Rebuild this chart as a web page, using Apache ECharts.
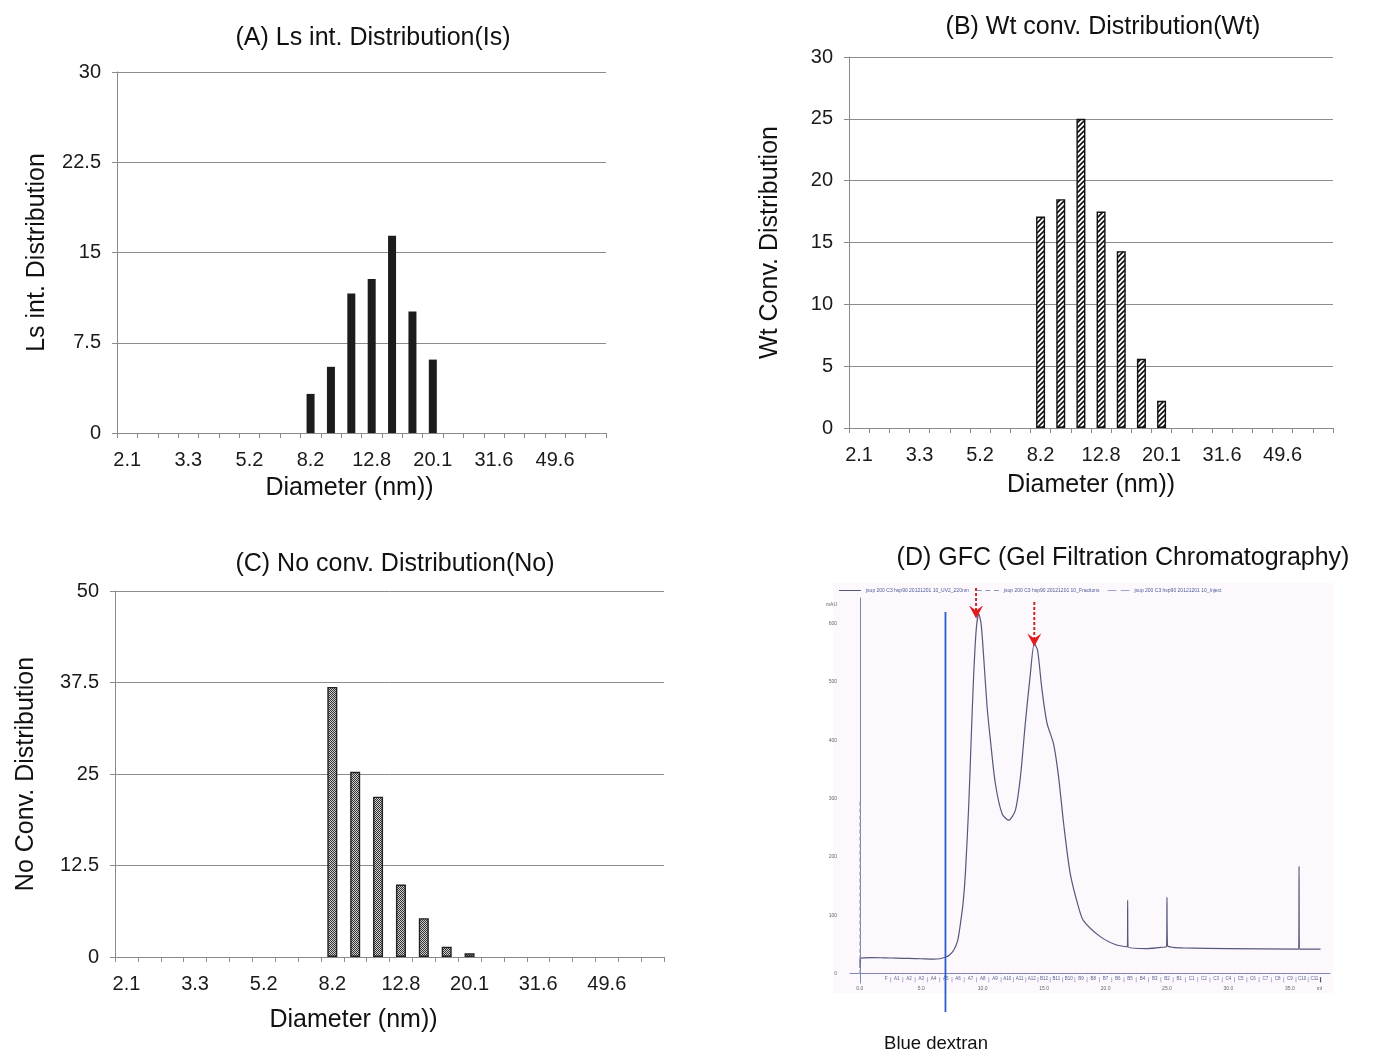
<!DOCTYPE html>
<html>
<head>
<meta charset="utf-8">
<script src="https://cdn.jsdelivr.net/npm/echarts@6/dist/echarts.min.js"></script>
<style>
html,body{margin:0;padding:0;background:#fff;}
#c{width:1393px;height:1058px;}
</style>
</head>
<body>
<div id="c"></div>
<script>
// ---------- DATA ----------
const diameters = ['2.1','2.4','2.8','3.3','3.8','4.5','5.2','6.0','7.0','8.2','9.5','11.0','12.8','14.9','17.3','20.1','23.4','27.2','31.6','36.7','42.7','49.6','57.7','67.1'];
const lsInt  = [null,null,null,null,null,null,null,null,null,3.25,5.5,11.6,12.8,16.4,10.1,6.1,null,null,null,null,null,null,null,null];
const wtConv = [null,null,null,null,null,null,null,null,null,17.1,18.5,25.0,17.5,14.3,5.6,2.2,null,null,null,null,null,null,null,null];
const noConv = [null,null,null,null,null,null,null,null,null,36.9,25.3,21.9,9.9,5.3,1.4,0.5,null,null,null,null,null,null,null,null];

// GFC chromatogram (ml, mAU)
const uvCurve = [[0.0,10],[0.05,26],[0.3,27],[1,27.5],[2,27],[3,26.5],[4,26],[5,25.5],[6,25],[6.5,25.5],[7.0,28.5],[7.3,32],[7.64,40],[7.97,57],[8.19,86],[8.4,120],[8.59,171],[8.86,286],[9.06,400],[9.27,514],[9.49,594],[9.68,617],[9.87,600],[10.08,543],[10.36,457],[10.63,400],[11.03,326],[11.58,274],[12.11,263],[12.66,280],[13.07,337],[13.47,429],[13.88,514],[14.2,566],[14.47,554],[14.83,486],[15.24,429],[15.77,394],[16.18,337],[16.59,257],[17.13,171],[17.8,114],[18.2,91],[19.6,63],[20.9,49],[21.78,46],[21.8,126],[21.83,46],[23.4,43],[24.5,45],[24.97,47],[25.0,131],[25.04,48],[25.5,45],[26.3,44],[30,43],[35.72,42],[35.75,184],[35.78,42],[37.5,42]];
const injectLine = [[0,0],[0,300]];
const blueDextranLine = [[6.97,620],[6.97,-66]];
const arrow1 = [[9.46,661],[9.46,620]];
const arrow2 = [[14.2,637],[14.2,572]];
const fractionNames = ['A1','A2','A3','A4','A5','A6','A7','A8','A9','A10','A11','A12','B12','B11','B10','B9','B8','B7','B6','B5','B4','B3','B2','B1','C1','C2','C3','C4','C5','C6','C7','C8','C9','C10','C11'];
const fractionStart = [2.5,3.5,4.5,5.5,6.5,7.5,8.5,9.5,10.5,11.5,12.5,13.5,14.5,15.5,16.5,17.5,18.5,19.5,20.5,21.5,22.5,23.5,24.5,25.5,26.5,27.5,28.5,29.5,30.5,31.5,32.5,33.5,34.5,35.5,36.5];
const fractionEnd   = [3.5,4.5,5.5,6.5,7.5,8.5,9.5,10.5,11.5,12.5,13.5,14.5,15.5,16.5,17.5,18.5,19.5,20.5,21.5,22.5,23.5,24.5,25.5,26.5,27.5,28.5,29.5,30.5,31.5,32.5,33.5,34.5,35.5,36.5,37.5];
const gfcXLabels = [0,5,10,15,20,25,30,35,37.4];
const gfcYLabels = [0,100,200,300,400,500,600,633];

const uvName = 'jsup 200 C3 hsp90 20121201 10_UV2_220nm';
const fracName = 'jsup 200 C3 hsp90 20121201 10_Fractions';
const injName = 'jsup 200 C3 hsp90 20121201 10_Inject';

// ---------- PATTERNS ----------
function hatch(){
  const c=document.createElement('canvas'); c.width=5; c.height=5;
  const g=c.getContext('2d');
  g.fillStyle='#ffffff'; g.fillRect(0,0,5,5);
  g.strokeStyle='#111'; g.lineWidth=1.6;
  g.beginPath();
  g.moveTo(-1,6); g.lineTo(6,-1);
  g.moveTo(-3,3); g.lineTo(3,-3);
  g.moveTo(2,8); g.lineTo(8,2);
  g.stroke();
  return c;
}
function stipple(){
  const c=document.createElement('canvas'); c.width=2; c.height=2;
  const g=c.getContext('2d');
  g.fillStyle='#cfcfcf'; g.fillRect(0,0,2,2);
  g.fillStyle='#333333'; g.fillRect(0,0,1,1); g.fillRect(1,1,1,1);
  return c;
}

const FONT = 'Liberation Sans, Arial, Helvetica, sans-serif';
const AX = '#8a8a8a';

function catX(gi, nameGap, shiftLeft){
  return {
    gridIndex: gi, type:'category', data: diameters, boundaryGap:true,
    axisLine:{show:true, lineStyle:{color:AX, width:1}},
    axisTick:{show:true, interval:0, length:5, lineStyle:{color:AX}},
    axisLabel:{interval:2, fontSize:20, color:'#1a1a1a', margin:17, fontFamily:FONT},
    name:'Diameter (nm))', nameLocation:'middle', nameGap:nameGap,
    nameTextStyle:{fontSize:25, color:'#111', fontFamily:FONT, padding:[0, shiftLeft*2, 0, 0]}
  };
}
function valY(gi, max, interval, name, nameGap){
  return {
    gridIndex: gi, type:'value', min:0, max:max, interval:interval,
    axisLine:{show:true, lineStyle:{color:AX, width:1}},
    axisTick:{show:true, length:5, lineStyle:{color:AX}},
    splitLine:{show:true, lineStyle:{color:'#8c8c8c', width:1}},
    axisLabel:{fontSize:20, color:'#1a1a1a', margin:16, fontFamily:FONT},
    name:name, nameLocation:'middle', nameGap:nameGap, nameRotate:90,
    nameTextStyle:{fontSize:25, color:'#111', fontFamily:FONT}
  };
}

const chevron = 'path://M0,0 L7,5 L14,0 L7,13 Z';

const chart = echarts.init(document.getElementById('c'), null, {renderer:'canvas'});
const option = {
  animation:false,
  backgroundColor:'#ffffff',
  textStyle:{fontFamily:FONT},
  graphic:[{type:'rect', z:-10, silent:true, shape:{x:833,y:583,width:500,height:410}, style:{fill:'#fcf8fb'}}],
  title:[
    {text:'(A) Ls int. Distribution(Is)', left:368, top:21, textAlign:'center', textStyle:{fontSize:25, fontWeight:'normal', color:'#111', fontFamily:FONT}},
    {text:'(B) Wt conv. Distribution(Wt)', left:1098, top:10, textAlign:'center', textStyle:{fontSize:25, fontWeight:'normal', color:'#111', fontFamily:FONT}},
    {text:'(C) No conv. Distribution(No)', left:390, top:547, textAlign:'center', textStyle:{fontSize:25, fontWeight:'normal', color:'#111', fontFamily:FONT}},
    {text:'(D) GFC (Gel Filtration Chromatography)', left:1118, top:541, textAlign:'center', textStyle:{fontSize:25, fontWeight:'normal', color:'#111', fontFamily:FONT}},
    {text:'Blue dextran', left:931, top:1029, textAlign:'center', textStyle:{fontSize:18.5, fontWeight:'normal', color:'#111', fontFamily:FONT}}
  ],
  legend:{
    left:834, top:583, itemWidth:22, itemHeight:1.5, itemGap:8, selectedMode:false,
    textStyle:{fontSize:5, color:'#4f5c9c', fontFamily:FONT},
    data:[
      {name:uvName, icon:'path://M0,0H22V1H0Z'},
      {name:fracName, icon:'path://M0,0H4V1H0ZM7,0H11V1H7ZM14,0H18V1H14Z'},
      {name:injName, icon:'path://M0,0H8V1H0ZM12,0H20V1H12Z'}
    ]
  },
  grid:[
    {left:117, top:72, width:489, height:361},
    {left:849, top:57, width:484, height:371},
    {left:115, top:591, width:549, height:366},
    {left:850, top:598, width:480, height:385}
  ],
  xAxis:[
    catX(0, 43, 12),
    catX(1, 45, 0),
    catX(2, 51, 36),
    {
      gridIndex:3, type:'value', min:-0.8, max:38.27,
      axisLine:{show:true, lineStyle:{color:'#7f86b0', width:1}},
      axisTick:{show:false},
      splitLine:{show:false},
      axisLabel:{customValues:gfcXLabels, fontSize:5, color:'#666', margin:3, fontFamily:FONT,
        formatter:function(v){ return v===37.4 ? 'ml' : Number(v).toFixed(1); }}
    }
  ],
  yAxis:[
    valY(0, 30, 7.5, 'Ls int. Distribution', 67),
    valY(1, 30, 5, 'Wt Conv. Distribution', 66),
    valY(2, 50, 12.5, 'No Conv. Distribution', 76),
    {
      gridIndex:3, type:'value', min:-16.1, max:644,
      axisLine:{show:true, lineStyle:{color:'#7f86b0', width:1}},
      axisTick:{show:false},
      splitLine:{show:false},
      axisLabel:{customValues:gfcYLabels, fontSize:5, color:'#666', margin:13, fontFamily:FONT,
        formatter:function(v){ return v===633 ? 'mAU' : String(v); }}
    }
  ],
  series:[
    {type:'bar', xAxisIndex:0, yAxisIndex:0, data:lsInt, barWidth:8, itemStyle:{color:'#1c1c1c'}},
    {type:'bar', xAxisIndex:1, yAxisIndex:1, data:wtConv, barWidth:9,
      itemStyle:{color:{image:hatch(), repeat:'repeat'}, borderColor:'#111', borderWidth:1.4}},
    {type:'bar', xAxisIndex:2, yAxisIndex:2, data:noConv, barWidth:10,
      itemStyle:{color:{image:stipple(), repeat:'repeat'}, borderColor:'#222', borderWidth:1.4}},
    {type:'line', name:uvName, xAxisIndex:3, yAxisIndex:3, data:uvCurve, symbol:'none', smooth:0.25,
      itemStyle:{color:'#55577c'}, lineStyle:{color:'#55577c', width:1.2}},
    {type:'custom', name:fracName, xAxisIndex:3, yAxisIndex:3, silent:true,
      itemStyle:{color:'#8e94c4'},
      data: fractionStart.map(function(s,i){ return [s, fractionEnd[i]]; }),
      renderItem:function(params, api){
        const s=api.value(0), e=api.value(1), i=params.dataIndex;
        const a=api.coord([s,-1]), b=api.coord([s,-15]);
        const t0=api.coord([s,1.5]), t1=api.coord([s,-1.5]);
        const c=api.coord([(s+e)/2,-9]);
        const kids=[
          {type:'line', shape:{x1:a[0],y1:a[1]+3,x2:b[0],y2:b[1]}, style:{stroke:'#8e94c4', lineWidth:0.7}},
          {type:'line', shape:{x1:t0[0],y1:t0[1],x2:t1[0],y2:t1[1]}, style:{stroke:'#9aa0c8', lineWidth:0.7}},
          {type:'text', style:{text:fractionNames[i], x:c[0], y:c[1], align:'center', verticalAlign:'middle', fontSize:4.5, fill:'#5c6296', fontFamily:FONT}}
        ];
        if(i===0){
          const f=api.coord([s-0.35,-9]);
          kids.push({type:'text', style:{text:'F', x:f[0], y:f[1], align:'center', verticalAlign:'middle', fontSize:4.5, fill:'#5c6296', fontFamily:FONT}});
        }
        if(i===fractionStart.length-1){
          const ea=api.coord([e,-1]), eb=api.coord([e,-15]);
          kids.push({type:'line', shape:{x1:ea[0],y1:ea[1]+3,x2:eb[0],y2:eb[1]}, style:{stroke:'#555', lineWidth:1.2}});
        }
        return {type:'group', children:kids};
      }
    },
    {type:'line', name:injName, xAxisIndex:3, yAxisIndex:3, data:injectLine, symbol:'none',
      itemStyle:{color:'#9ca2cc'}, lineStyle:{color:'#9ca2cc', width:1, type:[4,3]}},
    {type:'line', name:'Blue dextran', xAxisIndex:3, yAxisIndex:3, data:blueDextranLine, symbol:'none', clip:false,
      itemStyle:{color:'#2c5fcc'}, lineStyle:{color:'#2c5fcc', width:1.8}, silent:true},
    {type:'line', name:'peak1', xAxisIndex:3, yAxisIndex:3, clip:false, silent:true,
      data:[{value:arrow1[0], symbol:'none'},{value:arrow1[1], symbol:chevron, symbolSize:[14,13]}],
      showSymbol:true, itemStyle:{color:'#e31a1a'}, lineStyle:{color:'#c62a2a', width:2, type:[3,2]}},
    {type:'line', name:'peak2', xAxisIndex:3, yAxisIndex:3, clip:false, silent:true,
      data:[{value:arrow2[0], symbol:'none'},{value:arrow2[1], symbol:chevron, symbolSize:[14,13]}],
      showSymbol:true, itemStyle:{color:'#e31a1a'}, lineStyle:{color:'#c62a2a', width:2, type:[3,2]}}
  ]
};
chart.setOption(option);
</script>
</body>
</html>
